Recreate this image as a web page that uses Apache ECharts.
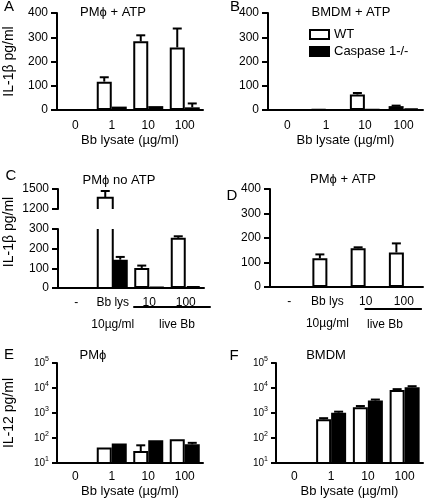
<!DOCTYPE html>
<html>
<head>
<meta charset="utf-8">
<script src="https://cdn.jsdelivr.net/npm/echarts@6/dist/echarts.min.js"></script>
<style>html,body{margin:0;padding:0;background:#fff}#c{width:425px;height:501px}</style>
</head>
<body>
<div id="c"></div>
<script>
// ---- data ----
const catsLysate = ['0', '1', '10', '100'];
const catsLive = ['-', 'Bb lys\n10µg/ml', '10', '100'];
const ticksIL1b = [0, 100, 200, 300, 400];
const ticksIL1bLow = [0, 100, 200, 300];
const ticksIL1bHigh = [1200, 1500];
const ticksIL12 = [10, 100, 1000, 10000, 100000];

const aWT = [0, 117, 283, 258], aWTerr = [0, 18, 25, 78];
const aCasp = [0, 14, 16, 11], aCaspErr = [0, 0, 0, 16];
const bWT = [0, 3, 64, 16], bWTerr = [0, 0, 6, 2];
const bCasp = [0, 0, 2, 6], bCaspErr = [0, 0, 0, 0];
const cWT = [0, 1370, 102, 255], cWTerr = [0, 100, 12, 8];
const cCasp = [0, 144, 4, 10], cCaspErr = [0, 14, 0, 0];
const dWT = [0, 117, 158, 141], dWTerr = [0, 16, 4, 37];
const dCasp = [0, 0, 0, 0], dCaspErr = [0, 0, 0, 0];
const eWT = [null, 42, 30, 90], eWTerr = [0, 0, 21, 0];
const eCasp = [null, 60, 82, 56], eCaspErr = [0, 0, 0, 8];
const fWT = [null, 560, 1700, 8400], fWTerr = [0, 60, 200, 600];
const fCasp = [null, 1030, 3150, 10800], fCaspErr = [0, 100, 300, 1000];
const liveGroup = [[2, 3]]; // categories grouped under "live Bb"

// ---- helpers ----
const FONT = 'Liberation Sans, Arial, Helvetica, sans-serif';
const BW = 15;
const wtStyle = {color: '#fff', borderColor: '#000', borderWidth: 2};
const caspStyle = {color: '#000', borderColor: '#000', borderWidth: 2};

function bar(name, idx, data, style) {
  return {type: 'bar', name: name, xAxisIndex: idx, yAxisIndex: idx, data: data,
    barWidth: BW, barGap: '0%', itemStyle: style, silent: true, clip: true, animation: false};
}
function errBars(idx, vals, errs, offset) {
  const d = [];
  vals.forEach((v, i) => { if (v != null && errs[i] > 0) d.push([i, v, v + errs[i]]); });
  return {type: 'custom', xAxisIndex: idx, yAxisIndex: idx, silent: true, z: 5, animation: false,
    data: d,
    renderItem: function (params, api) {
      const p0 = api.coord([api.value(0), api.value(1)]);
      const p1 = api.coord([api.value(0), api.value(2)]);
      const x = p0[0] + offset;
      return {type: 'group', children: [
        {type: 'line', shape: {x1: x, y1: p0[1], x2: x, y2: p1[1]}, style: {stroke: '#000', lineWidth: 2}},
        {type: 'line', shape: {x1: x - 4.5, y1: p1[1], x2: x + 4.5, y2: p1[1]}, style: {stroke: '#000', lineWidth: 2}}
      ]};
    }};
}
// bar segment of a broken axis: open on one side
function openBar(idx, items, offset, openSide) {
  return {type: 'custom', xAxisIndex: idx, yAxisIndex: idx, silent: true, z: 3, animation: false,
    data: items,
    renderItem: function (params, api) {
      const pb = api.coord([api.value(0), api.value(1)]);
      const pt = api.coord([api.value(0), api.value(2)]);
      const xc = pb[0] + offset, x0 = xc - BW / 2, x1 = xc + BW / 2;
      const pts = openSide === 'top'
        ? [[x0, pt[1]], [x0, pb[1]], [x1, pb[1]], [x1, pt[1]]]
        : [[x0, pb[1]], [x0, pt[1]], [x1, pt[1]], [x1, pb[1]]];
      return {type: 'group', children: [
        {type: 'rect', shape: {x: x0, y: pt[1], width: BW, height: pb[1] - pt[1]}, style: {fill: '#fff'}},
        {type: 'polyline', shape: {points: pts}, style: {stroke: '#000', lineWidth: 2, fill: null}}
      ]};
    }};
}
// underline grouping categories below the axis labels
function groupLine(idx, items, padL, padR, dy) {
  return {type: 'custom', xAxisIndex: idx, yAxisIndex: idx, silent: true, clip: false, animation: false,
    data: items,
    renderItem: function (params, api) {
      const a = api.coord([api.value(0), 0]);
      const b = api.coord([api.value(1), 0]);
      return {type: 'line', shape: {x1: a[0] - padL, y1: a[1] + dy, x2: b[0] + padR, y2: a[1] + dy},
        style: {stroke: '#000', lineWidth: 2}};
    }};
}
// tick labels for the two segments of the broken axis (panel C), placed through the axis scale
function tickText(idx, ticks) {
  return {type: 'custom', xAxisIndex: idx, yAxisIndex: idx, silent: true, clip: false, animation: false, z: 6,
    data: ticks.map(v => [0, v]),
    renderItem: function (params, api) {
      const p = api.coord([0, api.value(1)]);
      const axisX = p[0] - api.size([1, 0])[0] / 2;
      return {type: 'text', x: axisX - 9, y: p[1],
        style: {text: String(api.value(1)), fontSize: 12, fontFamily: FONT, fill: '#000', align: 'right', verticalAlign: 'middle'}};
    }};
}
const axLine = {show: true, lineStyle: {color: '#000', width: 2}};
function xAx(idx, cats, opts) {
  return Object.assign({type: 'category', gridIndex: idx, data: cats,
    axisLine: axLine, axisTick: {show: false},
    axisLabel: {fontSize: 12, color: '#000', fontFamily: FONT, margin: 10, interval: 0},
    nameTextStyle: {fontSize: 13, color: '#000', fontFamily: FONT}}, opts || {});
}
const yNameStyle = {fontSize: 14, color: '#000', fontFamily: FONT};
function yLin(idx, ticks, name, showLabels) {
  const iv = ticks[1] - ticks[0];
  const o = {type: 'value', gridIndex: idx, min: ticks[0], max: ticks[ticks.length - 1], interval: iv,
    axisLine: axLine, axisTick: {show: true, length: 6, lineStyle: {color: '#000', width: 2}},
    splitLine: {show: false},
    axisLabel: {show: showLabels !== false, fontSize: 12, color: '#000', fontFamily: FONT, margin: 9,
      showMinLabel: true, showMaxLabel: true, formatter: function (v) { return String(v); }}};
  if (name) Object.assign(o, {name: name, nameLocation: 'middle', nameRotate: 90, nameGap: 41, nameTextStyle: yNameStyle});
  return o;
}
function yLog(idx, ticks, name) {
  const o = {type: 'log', logBase: 10, gridIndex: idx, min: ticks[0], max: ticks[ticks.length - 1],
    axisLine: axLine, axisTick: {show: true, length: 5, lineStyle: {color: '#000', width: 2}},
    splitLine: {show: false}, minorTick: {show: false},
    axisLabel: {color: '#000', fontFamily: FONT, margin: 8,
      formatter: function (v) { return '{b|10}{s|' + Math.round(Math.log10(v)) + '}'; },
      rich: {b: {fontSize: 10, fontFamily: FONT, color: '#000'},
             s: {fontSize: 7, fontFamily: FONT, color: '#000', padding: [0, 0, 7, 0]}}}};
  if (name) Object.assign(o, {name: name, nameLocation: 'middle', nameRotate: 90, nameGap: 41, nameTextStyle: yNameStyle});
  return o;
}
const XNAME = 'Bb lysate (µg/ml)';

const grids = [
  {left: 57, top: 13, width: 146, height: 97},   // A
  {left: 268, top: 13, width: 155, height: 97},  // B
  {left: 58, top: 189, width: 146, height: 20},  // C upper
  {left: 58, top: 229, width: 146, height: 59},  // C lower
  {left: 270, top: 189, width: 153, height: 98}, // D
  {left: 57, top: 363, width: 146, height: 100}, // E
  {left: 276, top: 363, width: 147, height: 100}, // F
  {left: 58, top: 180, width: 146, height: 104}  // C: holder for shared y name
];

const liveLabel = {fontSize: 12, color: '#000', fontFamily: FONT, margin: 4, lineHeight: 22, interval: 0};
const logXLabel = {fontSize: 12, color: '#000', fontFamily: FONT, margin: 8, interval: 0};
const xAxes = [
  xAx(0, catsLysate, {name: XNAME, nameLocation: 'middle', nameGap: 24}),
  xAx(1, catsLysate, {name: XNAME, nameLocation: 'middle', nameGap: 24}),
  xAx(2, catsLive, {show: false}),
  xAx(3, catsLive, {axisLabel: liveLabel}),
  xAx(4, catsLive, {axisLabel: liveLabel}),
  xAx(5, catsLysate, {name: XNAME, nameLocation: 'middle', nameGap: 22, axisLabel: logXLabel}),
  xAx(6, catsLysate, {name: XNAME, nameLocation: 'middle', nameGap: 22, axisLabel: logXLabel}),
  xAx(7, catsLive, {show: false})
];
const yAxes = [
  yLin(0, ticksIL1b, 'IL-1β pg/ml'), yLin(1, ticksIL1b),
  yLin(2, ticksIL1bHigh, null, false), yLin(3, ticksIL1bLow, null, false),
  yLin(4, ticksIL1b),
  yLog(5, ticksIL12, 'IL-12 pg/ml'), yLog(6, ticksIL12),
  {type: 'value', gridIndex: 7, min: 0, max: 1, name: 'IL-1β pg/ml', nameLocation: 'middle', nameRotate: 90,
   nameGap: 42, nameTextStyle: yNameStyle, axisLine: {show: false}, axisTick: {show: false},
   axisLabel: {show: false}, splitLine: {show: false}}
];

// panel C: broken axis handling
const cLowMax = ticksIL1bLow[ticksIL1bLow.length - 1];
const cHighMin = ticksIL1bHigh[0];
const cWTlow = cWT.map(v => v > cLowMax ? null : v);
const cLowerWTerr = cWTerr.map((e, i) => cWT[i] > cLowMax ? 0 : e);
const cUpperWT = cWT.map(v => v > cLowMax ? v : null);
const cBrokenLow = [], cBrokenHigh = [];
cWT.forEach((v, i) => { if (v > cLowMax) { cBrokenLow.push([i, 0, cLowMax]); cBrokenHigh.push([i, cHighMin, v]); } });

const series = [
  bar('WT', 0, aWT, wtStyle), bar('Caspase 1-/-', 0, aCasp, caspStyle),
  errBars(0, aWT, aWTerr, -BW / 2), errBars(0, aCasp, aCaspErr, BW / 2),
  bar('WT', 1, bWT, wtStyle), bar('Caspase 1-/-', 1, bCasp, caspStyle),
  errBars(1, bWT, bWTerr, -BW / 2), errBars(1, bCasp, bCaspErr, BW / 2),
  openBar(2, cBrokenHigh, -BW / 2, 'bottom'),
  errBars(2, cUpperWT, cWTerr, -BW / 2),
  tickText(2, ticksIL1bHigh),
  bar('WT', 3, cWTlow, wtStyle), bar('Caspase 1-/-', 3, cCasp, caspStyle),
  openBar(3, cBrokenLow, -BW / 2, 'top'),
  errBars(3, cWT, cLowerWTerr, -BW / 2), errBars(3, cCasp, cCaspErr, BW / 2),
  tickText(3, ticksIL1bLow),
  groupLine(3, liveGroup, 16, 25, 19),
  bar('WT', 4, dWT, wtStyle), bar('Caspase 1-/-', 4, dCasp, caspStyle),
  errBars(4, dWT, dWTerr, -BW / 2), errBars(4, dCasp, dCaspErr, BW / 2),
  groupLine(4, liveGroup, 1, 18, 22),
  bar('WT', 5, eWT, wtStyle), bar('Caspase 1-/-', 5, eCasp, caspStyle),
  errBars(5, eWT, eWTerr, -BW / 2), errBars(5, eCasp, eCaspErr, BW / 2),
  bar('WT', 6, fWT, wtStyle), bar('Caspase 1-/-', 6, fCasp, caspStyle),
  errBars(6, fWT, fWTerr, -BW / 2), errBars(6, fCasp, fCaspErr, BW / 2)
];

function ttl(x, y, s, size) {
  return {text: s, left: x, top: y, textAlign: 'center', textVerticalAlign: 'middle', padding: 0,
    textStyle: {fontSize: size, fontWeight: 'normal', color: '#000', fontFamily: FONT}};
}
const titles = [
  ttl(9, 7, 'A', 15), ttl(235, 7, 'B', 15), ttl(11, 176, 'C', 15),
  ttl(232, 196, 'D', 15), ttl(9, 355, 'E', 15), ttl(234, 356, 'F', 15),
  ttl(113, 12, 'PMϕ + ATP', 13), ttl(351, 12, 'BMDM + ATP', 13),
  ttl(119, 180, 'PMϕ no ATP', 13), ttl(343, 179, 'PMϕ + ATP', 13),
  ttl(93, 355, 'PMϕ', 13), ttl(326, 355, 'BMDM', 13),
  ttl(177, 325, 'live Bb', 12), ttl(385, 325, 'live Bb', 12)
];

const chart = echarts.init(document.getElementById('c'), null, {renderer: 'canvas'});
chart.setOption({
  animation: false,
  backgroundColor: '#fff',
  textStyle: {fontFamily: FONT},
  title: titles,
  grid: grids,
  xAxis: xAxes,
  yAxis: yAxes,
  legend: {
    left: 309, top: 28, padding: 0, orient: 'vertical', itemWidth: 19, itemHeight: 9, itemGap: 4,
    selectedMode: false, icon: 'rect',
    textStyle: {fontSize: 13, color: '#000', fontFamily: FONT},
    data: [
      {name: 'WT', itemStyle: {color: '#fff', borderColor: '#000', borderWidth: 2}},
      {name: 'Caspase 1-/-', itemStyle: {color: '#000', borderColor: '#000', borderWidth: 2}}
    ]
  },
  series: series
});
</script>
</body>
</html>
